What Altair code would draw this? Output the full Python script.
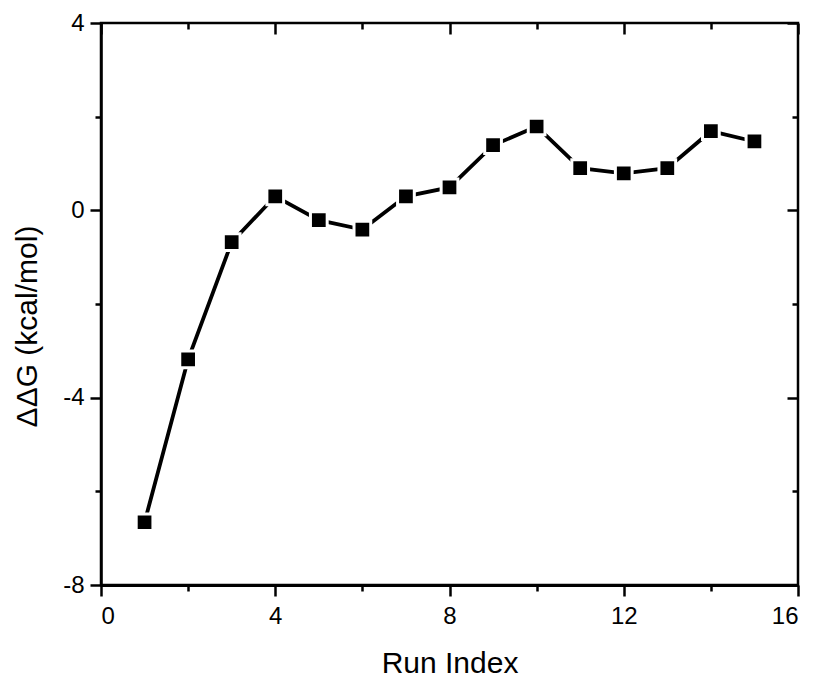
import altair as alt
import pandas as pd

run_index = list(range(1, 16))
ddg = [-6.66, -3.18, -0.68, 0.30, -0.21, -0.41, 0.30, 0.49, 1.39, 1.79, 0.90, 0.79, 0.90, 1.69, 1.47]

x_ticks = [0, 2, 4, 6, 8, 10, 12, 14, 16]
y_ticks = [-8, -6, -4, -2, 0, 2, 4]

df = pd.DataFrame({"run": run_index, "ddg": ddg})

W, H = 697, 562
FONT = "Liberation Sans"

xscale = alt.Scale(domain=[0, 16], nice=False, zero=False)
yscale = alt.Scale(domain=[-8, 4], nice=False, zero=False)

tick_size = {"condition": {"test": "datum.value % 4 === 0", "value": 11}, "value": 6}
label_expr = "datum.value % 4 === 0 ? toString(datum.value) : ''"

x_axis_main = alt.Axis(
    orient="bottom", values=x_ticks, title="Run Index",
    labelExpr=label_expr,
    tickSize=tick_size, tickWidth=2.5, tickColor="black",
    domainColor="black", domainWidth=3,
    labelFontSize=24, labelPadding=8,
    titleFontSize=30, titlePadding=20, grid=False,
)
y_axis_main = alt.Axis(
    orient="left", values=y_ticks, title="ΔΔG (kcal/mol)",
    labelExpr=label_expr,
    tickSize=tick_size, tickWidth=2.5, tickColor="black",
    domainColor="black", domainWidth=2.5,
    labelFontSize=24, labelPadding=6,
    titleFontSize=30, titlePadding=20, titleY=303, grid=False,
)

x_axis_top = alt.Axis(
    orient="bottom", offset=-H, values=x_ticks, title=None, labels=False,
    domain=False, tickSize=tick_size, tickWidth=2.5, tickColor="black", grid=False,
)
y_axis_right = alt.Axis(
    orient="left", offset=-W, values=y_ticks, title=None, labels=False,
    domain=False, tickSize=tick_size, tickWidth=2.5, tickColor="black", grid=False,
)

base = alt.Chart(df)

line = base.mark_line(color="black", strokeWidth=3.8).encode(
    x=alt.X("run:Q", scale=xscale, axis=x_axis_main),
    y=alt.Y("ddg:Q", scale=yscale, axis=y_axis_main),
)

points = base.mark_point(
    shape="square", filled=True, fill="black", stroke="white",
    strokeWidth=3, size=280, opacity=1,
).encode(
    x=alt.X("run:Q", scale=xscale, axis=None),
    y=alt.Y("ddg:Q", scale=yscale, axis=None),
)

ghost = base.mark_point(opacity=0).encode(
    x=alt.X("run:Q", scale=xscale, axis=x_axis_top),
    y=alt.Y("ddg:Q", scale=yscale, axis=y_axis_right),
)

chart = (
    alt.layer(line, points, ghost)
    .resolve_axis(x="independent", y="independent")
    .properties(
        width=W, height=H,
        autosize=alt.AutoSizeParams(type="none"),
        padding={"left": 101, "top": 23, "right": 18, "bottom": 92},
        background="white",
    )
    .configure_view(stroke="black", strokeWidth=2.5)
    .configure_axis(
        labelFont=FONT, labelColor="black",
        titleFont=FONT, titleFontWeight="normal", titleColor="black",
    )
)

chart.save("out.html", embed_options={"renderer": "svg", "actions": False})
